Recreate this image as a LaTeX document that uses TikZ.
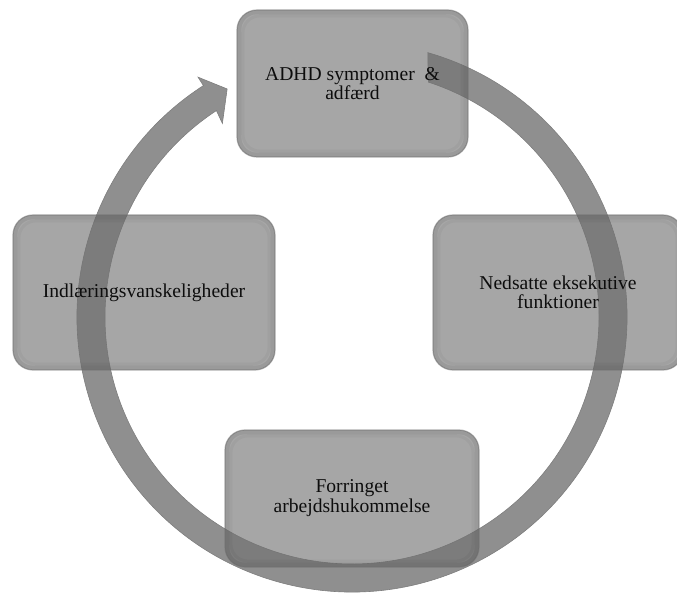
\documentclass[tikz,border=0pt]{standalone}
\usepackage{fontspec}
\setmainfont{Liberation Serif}
\usetikzlibrary{calc}
\definecolor{bandc}{RGB}{143,143,143}
\definecolor{bandedge}{RGB}{126,126,126}
\definecolor{boxc}{RGB}{113,113,113}
\definecolor{boxedge}{RGB}{110,110,110}
\begin{document}
\begin{tikzpicture}[x=1pt,y=1pt,
  cyclebox/.style={rounded corners=20pt, fill=boxc, fill opacity=0.625,
    draw=boxedge, draw opacity=0.55, line width=1.2pt, text opacity=1,
    text=black!95, align=center, inner sep=0pt,
    font=\fontsize{19.6}{18.5}\selectfont},
  innershade/.style={rounded corners=17pt, line width=4pt, draw=black, draw opacity=0.07}
  ]
\useasboundingbox (0,0) rectangle (677,592);
% cycle arrow band
\begin{scope}[shift={(352,275)}]
  \filldraw[fill=bandc, draw=bandedge, line width=0.6pt]
    (74:275) arc[start angle=74, end angle=-237.3, radius=275pt]
    -- (-237.3:285) -- (-241.3:260) -- (-236.2:233) -- (-236.7:247)
    arc[start angle=-236.7, end angle=72, radius=247pt] -- cycle;
\end{scope}
% boxes
\node[cyclebox, minimum width=231pt, minimum height=147pt] (nTop) at (352.5,508.5)
  {ADHD symptomer\ \ \&\\adfærd};
\node[cyclebox, minimum width=262pt, minimum height=155pt] (nLeft) at (144,299.5)
  {Indlæringsvanskeligheder};
\node[cyclebox, minimum width=250pt, minimum height=155pt] (nRight) at (558,299.5)
  {Nedsatte eksekutive\\funktioner};
\node[cyclebox, minimum width=254pt, minimum height=137pt] (nBottom) at (352,93.5)
  {\raisebox{-7pt}{\shortstack{Forringet\\[-1pt]arbejdshukommelse}}};
\foreach \n in {nTop,nLeft,nRight,nBottom}{
  \draw[innershade] ($(\n.south west)+(3,3)$) rectangle ($(\n.north east)-(3,3)$);
  \draw[innershade, line width=3pt, draw opacity=0.04] ($(\n.south west)+(6.5,6.5)$) rectangle ($(\n.north east)-(6.5,6.5)$);
}
\end{tikzpicture}
\end{document}
